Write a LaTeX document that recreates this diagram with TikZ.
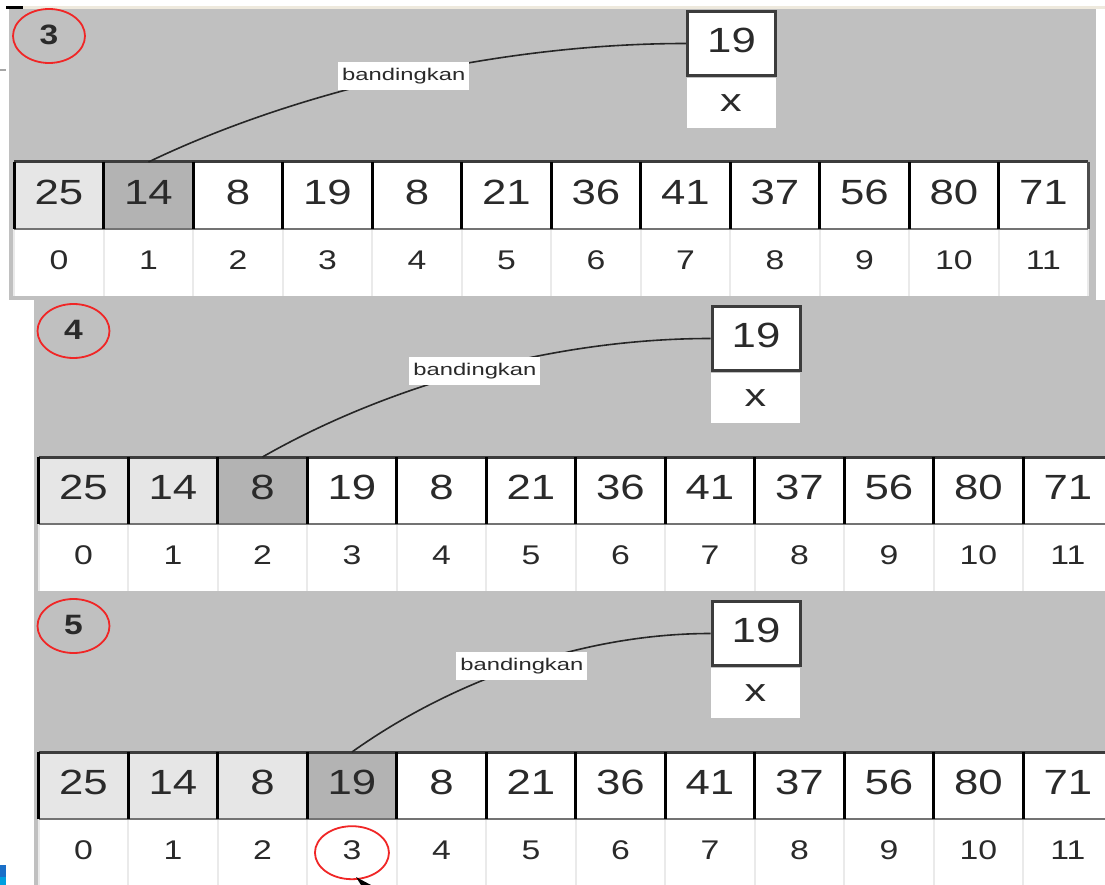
\documentclass[tikz,border=0pt]{standalone}
\usepackage{fontspec}
\usepackage{graphicx}
\setmainfont{Liberation Sans}
\usetikzlibrary{shapes.geometric}
\definecolor{panelgray}{HTML}{C0C0C0}
\definecolor{lightcell}{HTML}{E6E6E6}
\definecolor{darkcell}{HTML}{B3B3B3}
\definecolor{txt}{HTML}{2A2A2A}
\definecolor{sepgray}{HTML}{EAEAEA}
\definecolor{circred}{HTML}{F02626}
\definecolor{beige}{HTML}{EEE9DD}
\definecolor{boxedge}{HTML}{3C3C3C}
\definecolor{winblue}{HTML}{1A6FC8}
\definecolor{winblue2}{HTML}{009FE0}
\newcommand{\sx}[2]{\scalebox{#1}[1]{#2}}
\tikzset{
  valcell/.style={rectangle, minimum width=89.5pt, minimum height=67pt, inner sep=0pt, anchor=north west, text=txt, text depth=6pt, font=\fontsize{35}{35}\selectfont},
  idxcell/.style={rectangle, minimum width=89.5pt, minimum height=67pt, inner sep=0pt, anchor=north west, fill=white, text=txt, text depth=5pt, font=\fontsize{27}{27}\selectfont},
  topline/.style={draw=boxedge, line width=3pt},
  botline/.style={draw=black!55, line width=2pt},
  vline/.style={draw=black, line width=3pt},
  sepline/.style={draw=sepgray, line width=2pt},
  valbox/.style={rectangle, draw=boxedge, line width=3pt, fill=white, minimum width=88pt, minimum height=64pt, inner sep=0pt, text=txt, text depth=6pt, font=\fontsize{35}{35}\selectfont},
  varbox/.style={rectangle, fill=white, minimum width=89pt, minimum height=50pt, inner sep=0pt, anchor=north, text=txt, font=\fontsize{32}{32}\selectfont},
  conn/.style={draw=black!85, line width=1.6pt},
  cmp/.style={rectangle, fill=white, inner xsep=4pt, inner ysep=0pt, minimum height=28pt, text=txt, font=\fontsize{17}{17}\selectfont},
  stepnum/.style={ellipse, draw=circred, line width=1.8pt, minimum width=72pt, minimum height=54pt, inner sep=0pt, text=txt, font=\bfseries\fontsize{28}{28}\selectfont},
  mark3/.style={ellipse, draw=circred, line width=1.8pt, minimum width=74pt, minimum height=53pt, inner sep=0pt},
}
% #1 prefix, #2 highlighted index, #3 step number, #4 first control dx, #5 second control dx
\newcommand{\arraypanel}[5]{%
  \foreach \i/\val in {0/25,1/14,2/8,3/19,4/8,5/21,6/36,7/41,8/37,9/56,10/80,11/71}{%
    \ifnum\i<#2 \def\cf{lightcell}\else\ifnum\i=#2 \def\cf{darkcell}\else\def\cf{white}\fi\fi
    \node[valcell, fill=\cf] (#1c\i) at ({14+89.5*\i},162) {\sx{1.25}{\val}};
    \node[idxcell] (#1i\i) at ({14+89.5*\i},229) {\sx{1.25}{\i}};
  }
  \foreach \i in {0,...,11}{\draw[sepline] (#1i\i.north west) -- (#1i\i.south west);}
  \draw[sepline] (#1i11.north east) -- (#1i11.south east);
  \draw[botline] (#1c0.south west) -- (#1c11.south east);
  \draw[topline] (#1c0.north west) -- (#1c11.north east);
  \foreach \i in {0,...,11}{\draw[vline] (#1c\i.north west) -- (#1c\i.south west);}
  \draw[vline, draw=black!70] (#1c11.north east) -- (#1c11.south east);
  \node[varbox] (#1x) at (731,77.5) {\sx{1.35}{x}};
  \node[valbox] (#1b) at (731.5,43.5) {\sx{1.25}{19}};
  \draw[conn] (#1c#2.north) .. controls +(#4,-72) and +(#5,0) .. (#1b.west)
     node[cmp, pos=0.5] (#1l) {\sx{1.4}{bandingkan}};
  \node[stepnum] (#1n) at (49,36) {\raisebox{2pt}{\sx{1.2}{#3}}};
}
\begin{document}
\begin{tikzpicture}[x=1pt,y=-1pt]
\useasboundingbox (0,0) rectangle (1105,885);
\clip (0,0) rectangle (1105,885);
\fill[white] (0,0) rectangle (1105,885);
\fill[beige] (23,6) rectangle (1105,9);
\fill[black] (6,6) rectangle (23,9);
\fill[black!35] (0,69) rectangle (6,71);
\fill[panelgray] (9,9) rectangle (1096,300);
\fill[panelgray] (34,300) rectangle (1105,592);
\fill[panelgray] (34,592) rectangle (1105,885);
\fill[winblue] (0,865) rectangle (6,877);
\fill[winblue2] (0,877) rectangle (6,885);
\begin{scope}\arraypanel{p1}{1}{3}{150}{-186}\end{scope}
\begin{scope}[shift={(24.5,295)}]\arraypanel{p2}{2}{4}{126}{-157}\end{scope}
\begin{scope}[shift={(24.5,590)}]\arraypanel{p3}{3}{5}{101}{-126}\end{scope}
\node[mark3] (hl) at (p3i3.center) {};
\fill[black] (356,877) -- (371,885) -- (361,885) -- cycle;
\end{tikzpicture}
\end{document}
